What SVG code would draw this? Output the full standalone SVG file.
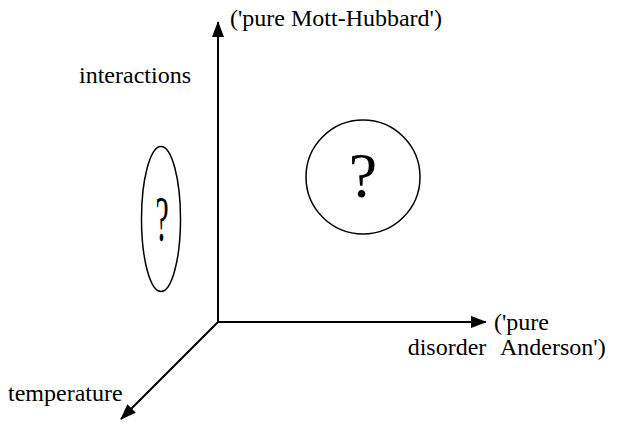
<svg xmlns="http://www.w3.org/2000/svg" width="634" height="424" viewBox="0 0 634 424">
<defs>
<marker id="ah" markerWidth="16" markerHeight="12" refX="15" refY="6" orient="auto" markerUnits="userSpaceOnUse">
<path d="M0,0 L16,6 L0,12 Z" fill="#000"/>
</marker>
<style>
.t{font-family:"Liberation Serif","Times New Roman",serif;font-size:24px;fill:#000}
.q{font-family:"Liberation Serif","Times New Roman",serif;fill:#000}
.ax{stroke:#000;stroke-width:2;fill:none}
.sh{stroke:#000;stroke-width:1.5;fill:none}
</style>
</defs>
<rect width="634" height="424" fill="#fff"/>
<g id="connectors">
<line class="ax" x1="218" y1="322" x2="218" y2="22" marker-end="url(#ah)"/>
<line class="ax" x1="218" y1="322" x2="486" y2="322" marker-end="url(#ah)"/>
<line class="ax" x1="218" y1="322" x2="121" y2="419" marker-end="url(#ah)"/>
</g>
<g id="axis-interactions">
<text class="t" x="191" y="83" text-anchor="end">interactions</text>
<text class="t" x="230" y="26">('pure Mott-Hubbard')</text>
</g>
<g id="axis-disorder">
<text class="t" x="447" y="355" text-anchor="middle">disorder</text>
<text class="t" x="494" y="330">('pure</text>
<text class="t" x="500" y="355">Anderson')</text>
</g>
<g id="axis-temperature">
<text class="t" x="8" y="401">temperature</text>
</g>
<g id="ellipse-node">
<ellipse class="sh" cx="161" cy="219" rx="19.5" ry="72.5"/>
<text class="q" font-size="66" transform="translate(162,241) scale(0.45,1)" text-anchor="middle">?</text>
</g>
<g id="circle-node">
<circle class="sh" cx="363" cy="177" r="57"/>
<text class="q" font-size="64" x="363" y="197" text-anchor="middle">?</text>
</g>
</svg>
